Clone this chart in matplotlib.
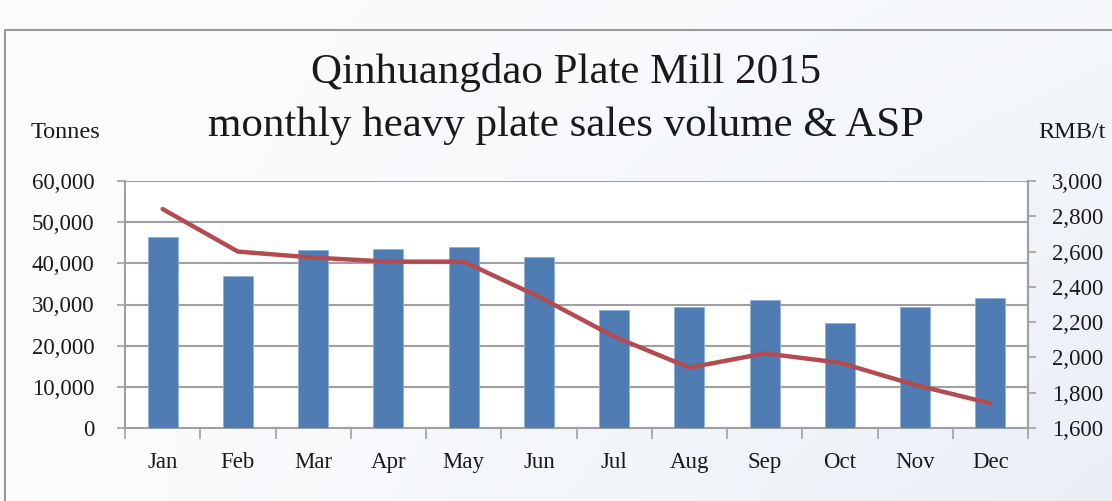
import matplotlib
matplotlib.use("Agg")
import matplotlib.pyplot as plt
import numpy as np
from matplotlib.ticker import FuncFormatter, FixedLocator

months = ["Jan", "Feb", "Mar", "Apr", "May", "Jun", "Jul", "Aug", "Sep", "Oct", "Nov", "Dec"]
volume = [46300, 36900, 43200, 43400, 44000, 41500, 28700, 29500, 31200, 25400, 29500, 31700]
asp = [2841, 2600, 2566, 2543, 2543, 2344, 2118, 1942, 2023, 1970, 1844, 1740]
title_lines = ["Qinhuangdao Plate Mill 2015", "monthly heavy plate sales volume & ASP"]

plt.rcParams['font.family'] = ['Liberation Serif', 'DejaVu Serif']

W, H = 1112, 501
fig = plt.figure(figsize=(W / 100, H / 100), dpi=100)

# background gradient
bg = fig.add_axes([0, 0, 1, 1], zorder=-10)
yy, xx = np.mgrid[0:1:200j, 0:1:400j]
t = np.clip(0.35 * xx + 0.45 * yy * xx, 0, 1)
c0 = np.array([0.99, 0.992, 0.995])
c1 = np.array([0.90, 0.925, 0.96])
img = c0[None, None, :] * (1 - t[..., None]) + c1[None, None, :] * t[..., None]
bg.imshow(img, aspect='auto', extent=[0, 1, 0, 1], origin='upper')
bg.plot([5 / W, 5 / W, 1], [0, 1 - 30 / H, 1 - 30 / H], color='#9a9a9a', lw=1.5)
bg.set_xlim(0, 1)
bg.set_ylim(0, 1)
bg.axis('off')

ax = fig.add_axes([125 / W, 1 - 428 / H, (1028 - 125) / W, (428 - 181) / H])
ax.set_facecolor('white')
x = np.arange(len(months))
ax.bar(x, volume, width=0.4, color='#4f7db3', edgecolor='#8fb0d8', linewidth=0.6, zorder=3)
ax.set_xlim(-0.5, len(months) - 0.5)
ax.set_ylim(0, 60000)
ax.set_yticks(np.arange(0, 60001, 10000))
ax.yaxis.set_major_formatter(FuncFormatter(lambda v, p: f"{int(v):,}"))
ax.grid(axis='y', color='#a0a0a0', lw=1.5, zorder=0)
ax.xaxis.set_major_locator(FixedLocator(np.arange(-0.5, len(months), 1.0)))
ax.xaxis.set_major_formatter(plt.NullFormatter())
ax.xaxis.set_minor_locator(FixedLocator(x))
ax.set_xticklabels(months, minor=True)
ax.tick_params(axis='x', which='major', length=8, width=1.2, color='#a0a0a0', direction='out')
ax.tick_params(axis='x', which='minor', length=0, pad=17, labelsize=16.5, labelcolor='#1a1a1a')
ax.tick_params(axis='y', length=6, width=1.2, color='#a0a0a0', labelsize=16.5, pad=16, labelcolor='#1a1a1a')
ax.spines['top'].set_visible(False)
for s in ['left', 'bottom', 'right']:
    ax.spines[s].set_color('#a0a0a0')
    ax.spines[s].set_linewidth(1.5)

ax2 = ax.twinx()
ax2.plot(x, asp, color='#b34c51', lw=3.2, solid_capstyle='round', zorder=5)
ax2.set_ylim(1600, 3000)
ax2.set_yticks(np.arange(1600, 3001, 200))
ax2.yaxis.set_major_formatter(FuncFormatter(lambda v, p: f"{int(v):,}"))
ax2.tick_params(axis='y', length=6, width=1.2, color='#a0a0a0', labelsize=16.5, pad=11, labelcolor='#1a1a1a')
for s in ['top', 'left', 'bottom']:
    ax2.spines[s].set_visible(False)
ax2.spines['right'].set_color('#a0a0a0')
ax2.spines['right'].set_linewidth(1.5)

fig.text(566 / W, 1 - 72 / H, title_lines[0], ha='center', va='center', fontsize=31, color='#1a1a1a')
fig.text(566 / W, 1 - 126 / H, title_lines[1], ha='center', va='center', fontsize=31, color='#1a1a1a')
fig.text(65 / W, 1 - 133 / H, "Tonnes", ha='center', va='center', fontsize=17.5, color='#1a1a1a')
fig.text(1072 / W, 1 - 133 / H, "RMB/t", ha='center', va='center', fontsize=17.5, color='#1a1a1a')

fig.savefig("out.png", dpi=100)
